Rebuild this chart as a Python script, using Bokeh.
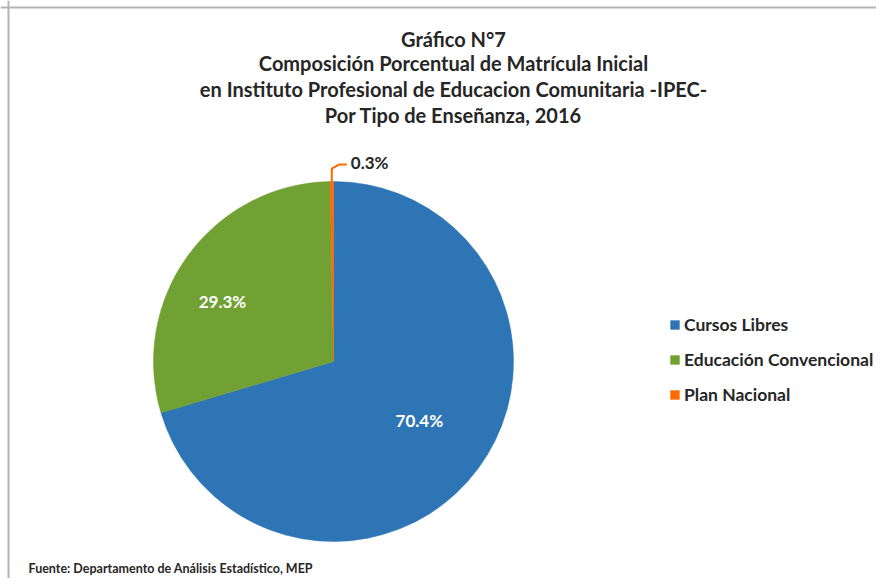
import math
from bokeh.plotting import figure
from bokeh.models import Range1d, ColumnDataSource, Span, Legend, LegendItem
from bokeh.core.properties import value
from bokeh.embed import file_html
from bokeh.resources import INLINE

# ---- data ----
categories = ["Cursos Libres", "Educación Convencional", "Plan Nacional"]
percentages = [70.4, 29.3, 0.3]
colors = ["#2E75B6", "#70A132", "#FF6A00"]
title_lines = [
    "Gráfico N°7",
    "Composición Porcentual de Matrícula Inicial",
    "en Instituto Profesional de Educacion Comunitaria -IPEC-",
    "Por Tipo de Enseñanza, 2016",
]
source_note = "Fuente: Departamento de Análisis Estadístico, MEP"

W, H = 876, 578
FONT = "Lato"

p = figure(width=W, height=H, output_backend="svg", toolbar_location=None,
           x_range=Range1d(0, W), y_range=Range1d(0, H), min_border=0)
p.axis.visible = False
p.grid.visible = False
p.outline_line_color = None
p.background_fill_color = "white"
p.border_fill_color = "white"

# chart-area border (left and top visible)
p.add_layout(Span(location=8, dimension="height", line_color="#b4b4b4", line_width=2))
p.add_layout(Span(location=H - 7, dimension="width", line_color="#b4b4b4", line_width=2))

# ---- pie ----
cx, cy, R = 333, 217, 180
total = sum(percentages)
starts, ends, mids = [], [], []
cum = 0.0
for v in percentages:
    a0 = math.pi / 2 - 2 * math.pi * cum / total
    cum += v
    a1 = math.pi / 2 - 2 * math.pi * cum / total
    starts.append(a0)
    ends.append(a1)
    mids.append((a0 + a1) / 2)

src = ColumnDataSource(dict(cat=categories, val=percentages, color=colors,
                            start=starts, end=ends))
wr = p.wedge(x=cx, y=cy, radius=R, radius_units="screen", start_angle="start",
             end_angle="end", direction="clock", fill_color="color",
             line_color="color", line_width=0.5, source=src)

# ---- data labels ----
lab_r = [0.58, 0.70]
lab_tweak = [math.radians(2), math.radians(8)]
lx = [cx + R * f * math.cos(m + t) for f, m, t in zip(lab_r, mids[:2], lab_tweak)]
ly = [cy + R * f * math.sin(m + t) for f, m, t in zip(lab_r, mids[:2], lab_tweak)]
p.text(x=lx, y=ly, text=[f"{v:.1f}%" for v in percentages[:2]],
       text_color="white", text_font=value(FONT), text_font_style="bold",
       text_font_size="17px", text_align="center", text_baseline="middle")

# leader line for the small slice
ex = cx + R * math.cos(mids[2])
ey = cy + R * math.sin(mids[2])
p.line(x=[ex, ex, ex + 7, ex + 15], y=[ey, ey + 13, ey + 17, ey + 17],
       line_color=colors[2], line_width=2)
p.text(x=[ex + 19], y=[ey + 19], text=[f"{percentages[2]:.1f}%"],
       text_color="#262626", text_font=value(FONT), text_font_style="bold",
       text_font_size="17px", text_align="left", text_baseline="middle")

# ---- title ----
ty = [540, 516, 490, 464]
p.text(x=[453] * 4, y=ty, text=title_lines, text_color="#262626",
       text_font=value(FONT), text_font_style="bold", text_font_size="20px",
       text_align="center", text_baseline="middle")

# ---- source note ----
p.text(x=[28], y=[10], text=[source_note], text_color="#262626",
       text_font=value(FONT), text_font_style="bold", text_font_size="12.5px",
       text_align="left", text_baseline="middle")

# ---- legend ----
items = [LegendItem(label=c, renderers=[wr], index=i) for i, c in enumerate(categories)]
legend = Legend(items=items, location=(669, 173), orientation="vertical",
                border_line_color=None, background_fill_alpha=0,
                glyph_width=11, glyph_height=11, label_height=22,
                spacing=13, padding=0, margin=0, label_standoff=4,
                label_text_font=FONT, label_text_font_style="bold",
                label_text_font_size="17.5px", label_text_color="#262626")
p.add_layout(legend, "center")

open("out.html", "w").write(file_html(p, INLINE))
